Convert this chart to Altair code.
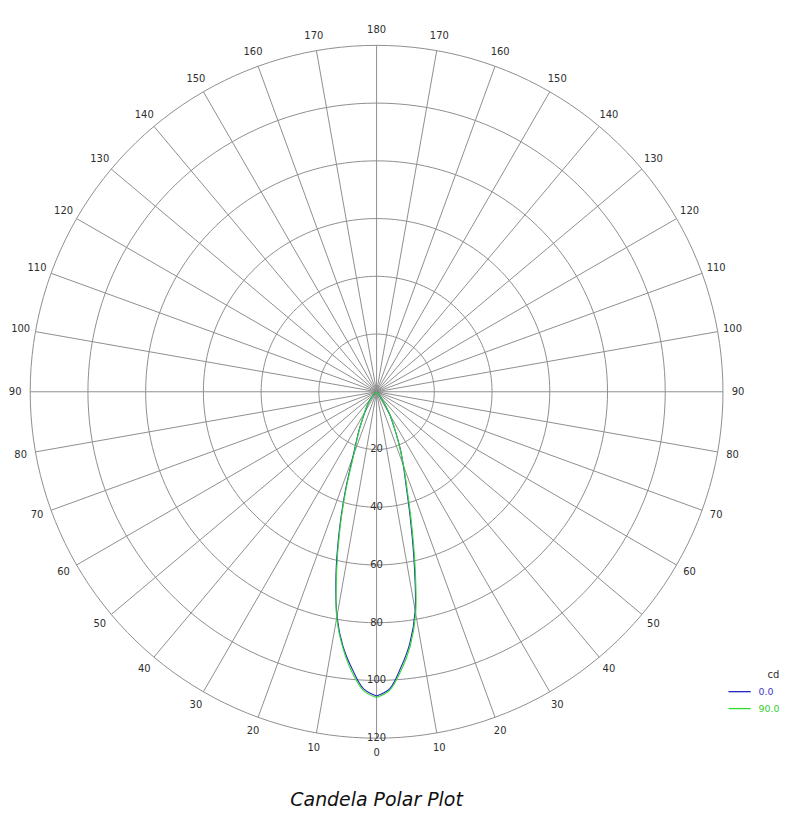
import altair as alt
import pandas as pd

# ---------------- data ----------------
GAMMA = [0, 2.5, 5, 7.5, 10, 12.5, 15, 17.5, 20, 22.5, 25, 30, 35, 40, 45, 60, 90]
# series "0.0": right half (C0) and left half (C180)
CD_C0 = [105.4, 103.0, 96.0, 88.0, 77.0, 60.0, 45.0, 34.0, 27.0, 21.5, 16.0, 9.0, 3.5, 1.5, 0.8, 0.4, 0.3]
CD_C180 = [105.4, 103.0, 96.5, 89.0, 79.0, 65.0, 50.0, 36.0, 24.0, 18.0, 14.0, 8.0, 5.5, 3.0, 1.2, 0.5, 0.3]
# series "90.0": right half (C90) and left half (C270)
CD_C90 = [105.9, 103.5, 97.0, 89.0, 78.0, 61.5, 46.5, 35.0, 27.5, 21.0, 16.0, 9.5, 4.0, 1.8, 0.8, 0.4, 0.3]
CD_C270 = [105.9, 103.6, 97.5, 89.5, 79.5, 64.0, 49.0, 35.0, 23.0, 17.5, 13.5, 8.5, 5.5, 2.8, 1.2, 0.5, 0.3]

SERIES = ["0.0", "90.0"]
SERIES_COLORS = ["#2626c0", "#2fdc2f"]
RINGS = [20, 40, 60, 80, 100, 120]
RING_LABELS = ["20", "40", "60", "80", "100", "120"]
SPOKES = list(range(0, 360, 10))
ANGLE_LABELS = [str(a if a <= 180 else 360 - a) for a in SPOKES]

R_OUT = max(RINGS)
LABEL_R = R_OUT + 5.2
GRID = "#8e8e8e"
TXT = "#2e2e2e"
FONT = "DejaVu Sans"

# ---------------- tables ----------------
curve_rows = []
for name, left, right in [(SERIES[0], CD_C180, CD_C0), (SERIES[1], CD_C270, CD_C90)]:
    for g, v in zip(GAMMA, left):
        curve_rows.append({"series": name, "side": -1, "gamma": g, "cd": v, "ord": -g})
    for g, v in zip(GAMMA, right):
        curve_rows.append({"series": name, "side": 1, "gamma": g, "cd": v, "ord": g})
curve_df = pd.DataFrame(curve_rows)

ring_df = pd.DataFrame([{"r": r, "t": t} for r in RINGS for t in range(0, 361, 2)])
ring_lab_df = pd.DataFrame({"r": RINGS, "label": RING_LABELS})
spoke_df = pd.DataFrame({"a": SPOKES, "label": ANGLE_LABELS})

HALF = 127.69
XS = alt.Scale(domain=[-HALF, HALF], nice=False, zero=False)
YS = alt.Scale(domain=[-132.3, 132.3], nice=False, zero=False)


def X(f):
    return alt.X(f, type="quantitative", scale=XS, axis=None)


def Y(f):
    return alt.Y(f, type="quantitative", scale=YS, axis=None)


rings = alt.Chart(ring_df).transform_calculate(
    x="datum.r*sin(datum.t*PI/180)", y="datum.r*cos(datum.t*PI/180)"
).mark_line(stroke=GRID, strokeWidth=1).encode(
    x=X("x"), y=Y("y"), detail="r:N", order="t:Q"
)

spokes = alt.Chart(spoke_df).transform_calculate(
    x0="0", y0="0",
    x1=f"{R_OUT}*sin(datum.a*PI/180)", y1=f"{R_OUT}*cos(datum.a*PI/180)"
).mark_rule(stroke=GRID, strokeWidth=1).encode(
    x=X("x0"), y=Y("y0"), x2="x1:Q", y2="y1:Q"
)

ring_labels = alt.Chart(ring_lab_df).transform_calculate(
    x="0", y="-datum.r"
).mark_text(font=FONT, fontSize=10, color=TXT, align="center", baseline="middle").encode(
    x=X("x"), y=Y("y"), text="label:N"
)

angle_labels = alt.Chart(spoke_df).transform_calculate(
    x=f"-{LABEL_R}*sin(datum.a*PI/180)", y=f"-{LABEL_R}*cos(datum.a*PI/180)"
).mark_text(font=FONT, fontSize=10, color=TXT, align="center", baseline="middle").encode(
    x=X("x"), y=Y("y"), text="label:N"
)

curves = alt.Chart(curve_df).transform_calculate(
    x="datum.side*datum.cd*sin(datum.gamma*PI/180)",
    y="-datum.cd*cos(datum.gamma*PI/180)",
).mark_line(strokeWidth=1.1, interpolate="catmull-rom").encode(
    x=X("x"), y=Y("y"), order="ord:Q",
    color=alt.Color(
        "series:N",
        scale=alt.Scale(domain=SERIES, range=SERIES_COLORS),
        legend=alt.Legend(
            title="cd", orient="none", legendX=723, legendY=663,
            symbolType="stroke", symbolSize=500, symbolStrokeWidth=1.3,
            labelFont=FONT, labelFontSize=9.5, labelOffset=7,
            labelColor=alt.ExprRef("datum.label === '0.0' ? '#3a3ac8' : '#2fd02f'"),
            titleFont=FONT, titleFontSize=10, titleFontWeight="normal",
            titleColor=TXT, titleAnchor="end", titlePadding=0,
            padding=0, rowPadding=0,
        ),
    ),
)

chart = alt.layer(rings, spokes, ring_labels, curves, angle_labels).properties(
    width=740.6,
    height=767.4,
    autosize=alt.AutoSizeParams(type="none"),
    padding={"left": 0, "top": 0, "right": 35, "bottom": 33},
    title=alt.Title(
        "Candela Polar Plot", orient="bottom", anchor="middle", frame="group",
        offset=32, baseline="alphabetic", font=FONT, fontSize=19,
        fontStyle="italic", fontWeight="normal", color="#111111",
    ),
).configure_view(strokeWidth=0)

chart.save("out.html", embed_options={"renderer": "svg", "actions": False})
